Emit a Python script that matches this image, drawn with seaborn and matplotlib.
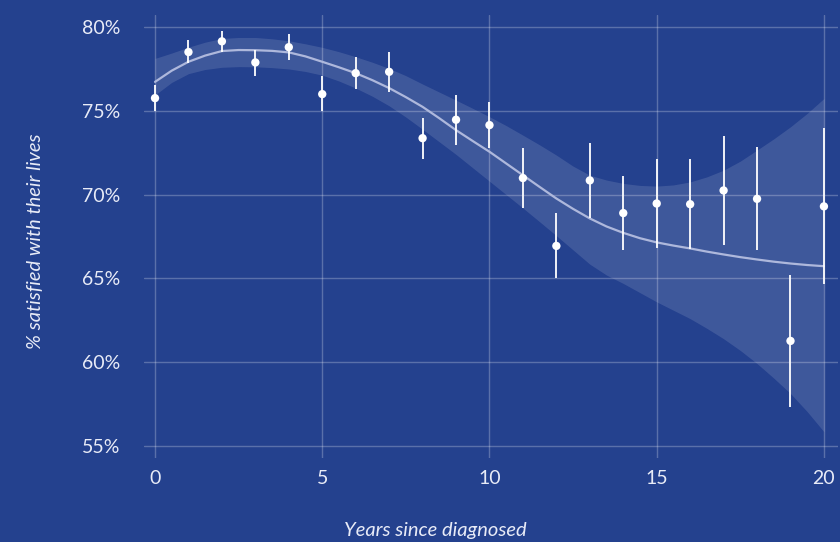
import numpy as np
import pandas as pd
import matplotlib
matplotlib.use("Agg")
import matplotlib.pyplot as plt
import seaborn as sns
from matplotlib.ticker import FuncFormatter

# Observed share satisfied by years since diagnosis, with 95% intervals
years = list(range(21))
pct_satisfied = [75.76, 78.51, 79.15, 77.89, 78.80, 76.00, 77.25, 77.33, 73.37, 74.47,
                 74.15, 70.99, 66.94, 70.85, 68.90, 69.47, 69.43, 70.25, 69.75, 61.27, 69.30]
ci_high = [76.54, 79.20, 79.74, 78.63, 79.56, 77.06, 78.19, 78.49, 74.57, 75.94,
           75.50, 72.78, 68.88, 73.06, 71.10, 72.12, 72.12, 73.49, 72.82, 65.23, 73.95]
ci_low = [74.99, 77.85, 78.53, 77.10, 78.03, 74.99, 76.28, 76.14, 72.14, 72.96,
          72.78, 69.18, 65.00, 68.62, 66.67, 66.79, 66.73, 66.97, 66.69, 57.33, 64.66]

# Smoothed trend and its confidence band, every half year
fit_years = [i / 2 for i in range(41)]
trend = [76.73, 77.40, 77.93, 78.30, 78.57, 78.63, 78.62, 78.58, 78.49, 78.25,
         77.93, 77.60, 77.25, 76.83, 76.36, 75.82, 75.24, 74.56, 73.85, 73.20,
         72.56, 71.86, 71.16, 70.46, 69.77, 69.15, 68.58, 68.10, 67.72, 67.40,
         67.15, 66.96, 66.79, 66.60, 66.43, 66.27, 66.13, 66.00, 65.89, 65.80, 65.73]
band_high = [78.13, 78.45, 78.80, 79.10, 79.32, 79.38, 79.38, 79.30, 79.18, 79.00,
             78.79, 78.53, 78.23, 77.90, 77.53, 77.10, 76.60, 76.12, 75.64, 75.15,
             74.65, 74.12, 73.55, 72.97, 72.36, 71.70, 71.16, 70.87, 70.67, 70.55,
             70.51, 70.58, 70.76, 71.06, 71.46, 72.00, 72.66, 73.33, 74.05, 74.85, 75.74]
band_low = [75.95, 76.70, 77.22, 77.47, 77.60, 77.64, 77.63, 77.58, 77.50, 77.35,
            77.13, 76.78, 76.36, 75.87, 75.30, 74.63, 73.90, 73.15, 72.40, 71.60,
            70.80, 70.00, 69.20, 68.38, 67.55, 66.70, 65.85, 65.20, 64.70, 64.15,
            63.60, 63.10, 62.60, 62.02, 61.40, 60.70, 59.92, 59.05, 58.13, 57.05, 55.85]

x_ticks = [0, 5, 10, 15, 20]
y_ticks = [55, 60, 65, 70, 75, 80]

BG = "#24418E"
TEXT = "#E8EBF7"

obs = pd.DataFrame({"years": years, "pct": pct_satisfied, "lo": ci_low, "hi": ci_high})
fit = pd.DataFrame({"years": fit_years, "trend": trend, "lo": band_low, "hi": band_high})

sns.set_theme(style="darkgrid", rc={
    "figure.facecolor": BG,
    "axes.facecolor": BG,
    "axes.edgecolor": BG,
    "grid.color": (1, 1, 1, 0.25),
    "grid.linewidth": 1.0,
    "xtick.color": TEXT,
    "ytick.color": TEXT,
    "axes.labelcolor": TEXT,
    "text.color": TEXT,
})
plt.rcParams["font.family"] = ["Lato", "DejaVu Sans"]

fig = plt.figure(figsize=(8.4, 5.42), dpi=100)
ax = fig.add_axes([0.1714, 0.1555, 0.8262, 0.8168])

ax.fill_between(fit["years"], fit["lo"], fit["hi"], color="white", alpha=0.12,
                linewidth=0, zorder=2)
sns.lineplot(data=fit, x="years", y="trend", color="#AEB8DC", linewidth=1.6,
             ax=ax, zorder=3)
ax.vlines(obs["years"], obs["lo"], obs["hi"], color="white", linewidth=1.3, zorder=4)
sns.scatterplot(data=obs, x="years", y="pct", color="white", s=36, edgecolor="none",
                ax=ax, zorder=5)

ax.set_xlim(-0.33, 20.42)
ax.set_ylim(54.3, 80.72)
ax.set_xticks(x_ticks)
ax.set_yticks(y_ticks)
ax.yaxis.set_major_formatter(FuncFormatter(lambda v, _: f"{v:.0f}%"))
ax.tick_params(axis="both", length=0, labelsize=14, labelcolor=TEXT)
ax.tick_params(axis="y", pad=17)
ax.tick_params(axis="x", pad=9)

ax.set_xlabel("Years since diagnosed", fontsize=14.5, fontstyle="italic", color=TEXT)
ax.set_ylabel("% satisfied with their lives", fontsize=14.5, fontstyle="italic",
              color=TEXT)
ax.xaxis.set_label_coords(0.42, -0.145)
ax.yaxis.set_label_coords(-0.144, 0.49)
for s in ax.spines.values():
    s.set_visible(False)

fig.savefig("out.png", dpi=100, facecolor=BG)
